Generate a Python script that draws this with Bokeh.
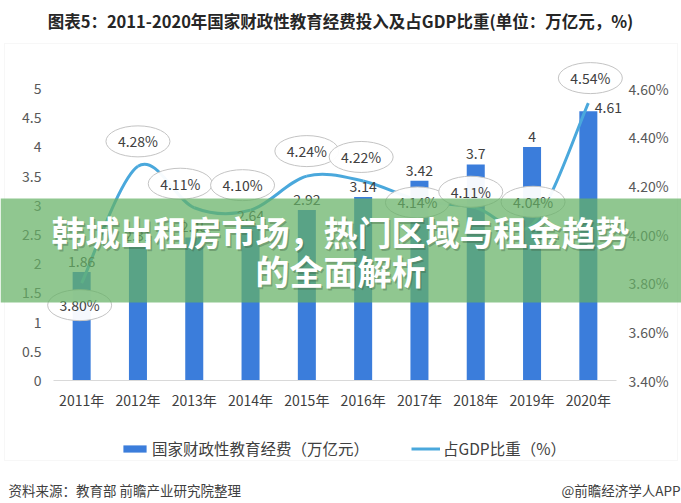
from bokeh.plotting import figure
from bokeh.models import (Range1d, LinearAxis, FixedTicker, Legend, LegendItem,
                          Label, BoxAnnotation)
from bokeh.core.properties import value
from bokeh.embed import file_html
from bokeh.resources import INLINE

# ---------------- data ----------------
years = ["2011年", "2012年", "2013年", "2014年", "2015年",
         "2016年", "2017年", "2018年", "2019年", "2020年"]
spend = [1.86, 2.31, 2.45, 2.64, 2.92, 3.14, 3.42, 3.70, 4.00, 4.61]   # 万亿元
gdp_share = [3.80, 4.28, 4.11, 4.10, 4.24, 4.22, 4.14, 4.11, 4.04, 4.54]  # %
left_ticks = [0, 0.5, 1, 1.5, 2, 2.5, 3, 3.5, 4, 4.5, 5]
left_tick_labels = ["0", "0.5", "1", "1.5", "2", "2.5", "3", "3.5", "4", "4.5", "5"]
right_ticks = [3.4, 3.6, 3.8, 4.0, 4.2, 4.4, 4.6]
right_tick_labels = ["3.40%", "3.60%", "3.80%", "4.00%", "4.20%", "4.40%", "4.60%"]

title_text = "图表5：2011-2020年国家财政性教育经费投入及占GDP比重(单位：万亿元，%)"
banner_line1 = "韩城出租房市场，热门区域与租金趋势"
banner_line2 = "的全面解析"
source_text = "资料来源：教育部 前瞻产业研究院整理"
brand_text = "@前瞻经济学人APP"
legend_bar = "国家财政性教育经费（万亿元）"
legend_line = "占GDP比重（%）"

# label placement (pixels)
bubble_dx = [-2, 0, -14, -8, 0, -2, -2, -5, 1, 2]
bubble_dy = [-22, 25, 24, 25, 25, 24, -2, 16, 23, 25]
barlabel_dx = [0, 0, 0, 0, 0, 0, 0, 0, 0, 20]
barlabel_dy = [-5, -5, -5, -5, -5, -5, -5, -5, -5, 2]

# ---------------- layout (frame = whole canvas) ----------------
FONT = "Noto Sans CJK SC"
W, H = 681, 503
PL, PR, PT, PB = 53, 616, 88, 380          # plot area in canvas pixels
n = len(years)
xs = list(range(n))
L0, L1 = left_ticks[0], left_ticks[-1]
R0, R1 = right_ticks[0], right_ticks[-1]
ppx = (PR - PL) / n                          # px per category
ppl = (PB - PT) / (L1 - L0)                  # px per left unit
ppr = (PB - PT) / (R1 - R0)                  # px per right unit

x_rng = Range1d(-0.5 - PL / ppx, n - 0.5 + (W - PR) / ppx)
y_rng = Range1d(L0 - (H - PB) / ppl, L1 + PT / ppl)
r_rng = Range1d(R0 - (H - PB) / ppr, R1 + PT / ppr)

p = figure(width=W, height=H, x_range=x_rng, y_range=y_rng,
           x_axis_location=None, y_axis_location=None, title_location=None,
           output_backend="svg", toolbar_location=None, min_border=0)
p.extra_y_ranges = {"pct": r_rng}
p.grid.visible = False
p.outline_line_color = None
p.background_fill_color = "white"
p.border_fill_color = "white"


def style_axis(ax, color):
    ax.major_tick_line_color = None
    ax.minor_tick_line_color = None
    ax.major_tick_out = 0
    ax.major_tick_in = 0
    ax.minor_tick_out = 0
    ax.major_label_text_font = FONT
    ax.major_label_text_font_size = "14px"
    ax.major_label_text_color = color


xa = LinearAxis(ticker=FixedTicker(ticks=xs), fixed_location=L0, bounds=(-0.5, n - 0.5))
xa.major_label_overrides = {i: years[i] for i in xs}
style_axis(xa, "#404040")
xa.axis_line_color = "#d9d9d9"
xa.major_label_standoff = 9
p.add_layout(xa, "below")

ya = LinearAxis(ticker=FixedTicker(ticks=left_ticks), fixed_location=-0.5)
ya.major_label_overrides = {t: l for t, l in zip(left_ticks, left_tick_labels)}
style_axis(ya, "#595959")
ya.axis_line_color = None
ya.major_label_standoff = 12
p.add_layout(ya, "left")

ra = LinearAxis(y_range_name="pct", ticker=FixedTicker(ticks=right_ticks),
                fixed_location=n - 0.5)
ra.major_label_overrides = {t: l for t, l in zip(right_ticks, right_tick_labels)}
style_axis(ra, "#595959")
ra.axis_line_color = None
ra.major_label_standoff = 12
p.add_layout(ra, "right")

# light outer chart border
p.add_layout(BoxAnnotation(left=4, right=677, top=H - 43, bottom=H - 460,
                           left_units="screen", right_units="screen",
                           top_units="screen", bottom_units="screen",
                           fill_alpha=0, line_color="#e6e6e6", line_width=1))

# bars
bars = p.vbar(x=xs, top=spend, width=0.32, fill_color="#3b7ddb", line_color=None)

# smooth line through the percentage points (Catmull-Rom as cubic Beziers)
bx0, by0, bx1, by1, cx0, cy0, cx1, cy1 = [], [], [], [], [], [], [], []
for i in range(n - 1):
    im1 = max(i - 1, 0)
    ip2 = min(i + 2, n - 1)
    bx0.append(xs[i]); by0.append(gdp_share[i])
    bx1.append(xs[i + 1]); by1.append(gdp_share[i + 1])
    cx0.append(xs[i] + (xs[i + 1] - xs[im1]) / 6)
    cy0.append(gdp_share[i] + (gdp_share[i + 1] - gdp_share[im1]) / 6)
    cx1.append(xs[i + 1] - (xs[ip2] - xs[i]) / 6)
    cy1.append(gdp_share[i + 1] - (gdp_share[ip2] - gdp_share[i]) / 6)
curve = p.bezier(x0=bx0, y0=by0, x1=bx1, y1=by1, cx0=cx0, cy0=cy0, cx1=cx1, cy1=cy1,
                 line_color="#4aa8dc", line_width=3, y_range_name="pct")

# bar value labels
p.text(x=xs, y=spend, text=[f"{v:g}" for v in spend],
       x_offset=barlabel_dx, y_offset=barlabel_dy,
       text_align="center", text_baseline="bottom",
       text_font=value(FONT), text_font_size="14px", text_color="#404040")

# percentage bubbles
ex = [x + dx / ppx for x, dx in zip(xs, bubble_dx)]
ey = [v + dy / ppr for v, dy in zip(gdp_share, bubble_dy)]
p.ellipse(x=ex, y=ey, width=64, height=31, width_units="screen", height_units="screen",
          fill_color="white", fill_alpha=0.95, line_color="#c4c4c4", line_width=1,
          y_range_name="pct")
p.text(x=ex, y=ey, text=[f"{v:.2f}%" for v in gdp_share], y_range_name="pct",
       text_align="center", text_baseline="middle",
       text_font=value(FONT), text_font_size="14px", text_color="#404040")

# legend
legend = Legend(items=[LegendItem(label=legend_bar, renderers=[bars]),
                       LegendItem(label=legend_line, renderers=[curve])],
                orientation="horizontal", location=(120, H - 459),
                border_line_color=None, background_fill_alpha=0,
                glyph_width=29, glyph_height=9, label_standoff=3, spacing=42,
                label_text_font=FONT, label_text_font_size="15.5px",
                label_text_color="#404040", margin=0, padding=10)
p.add_layout(legend)

# title
p.add_layout(Label(x=340, y=H - 20, x_units="screen", y_units="screen",
                   text=title_text, text_align="center", text_baseline="middle",
                   text_font=FONT, text_font_size="16.5px", text_font_style="bold",
                   text_color="#262626"))

# footer
p.add_layout(Label(x=8, y=H - 489, x_units="screen", y_units="screen",
                   text=source_text, text_align="left", text_baseline="middle",
                   text_font=FONT, text_font_size="13.5px", text_color="#404040"))
p.add_layout(Label(x=680, y=H - 489, x_units="screen", y_units="screen",
                   text=brand_text, text_align="right", text_baseline="middle",
                   text_font=FONT, text_font_size="13.5px", text_color="#404040"))

# green banner overlay
p.add_layout(BoxAnnotation(left=0, right=W, top=H - 198, bottom=H - 302,
                           left_units="screen", right_units="screen",
                           top_units="screen", bottom_units="screen",
                           fill_color="#65b265", fill_alpha=0.72, line_color=None))
for txt, yy in [(banner_line1, 231), (banner_line2, 270)]:
    p.add_layout(Label(x=341.5, y=H - yy - 1.5, x_units="screen", y_units="screen",
                       text=txt, text_align="center", text_baseline="middle",
                       text_font=FONT, text_font_size="34px", text_font_style="bold",
                       text_color="#3a5a3a", text_alpha=0.35))
    p.add_layout(Label(x=340, y=H - yy, x_units="screen", y_units="screen",
                       text=txt, text_align="center", text_baseline="middle",
                       text_font=FONT, text_font_size="34px", text_font_style="bold",
                       text_color="white"))

open("out.html", "w").write(file_html(p, INLINE))
